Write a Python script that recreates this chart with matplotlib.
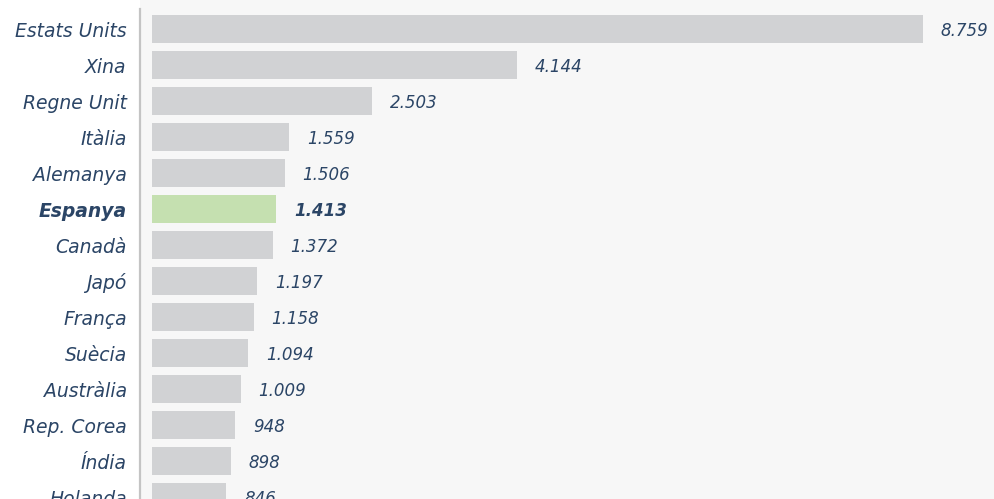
import matplotlib
matplotlib.use("Agg")
import matplotlib.pyplot as plt
from matplotlib.patches import Rectangle

countries = ["Estats Units", "Xina", "Regne Unit", "Itàlia", "Alemanya", "Espanya",
             "Canadà", "Japó", "França", "Suècia", "Austràlia", "Rep. Corea", "Índia", "Holanda"]
values = [8759, 4144, 2503, 1559, 1506, 1413, 1372, 1197, 1158, 1094, 1009, 948, 898, 846]
value_labels = ["8.759", "4.144", "2.503", "1.559", "1.506", "1.413", "1.372", "1.197",
                "1.158", "1.094", "1.009", "948", "898", "846"]
highlight = "Espanya"

W, H = 994, 499
fig = plt.figure(figsize=(W / 100, H / 100), dpi=100, facecolor="white")
fig.patches.append(Rectangle((140 / W, 0), 1 - 140 / W, 1, transform=fig.transFigure,
                             facecolor="#f7f7f7", edgecolor="none", zorder=-10))

ax = fig.add_axes([140 / W, 0, 1 - 140 / W, 1])
ax.set_facecolor("none")
ax.set_zorder(5)

text_color = "#2b4566"
gray = "#d1d2d4"
green = "#c5e0b0"

ypos = list(range(len(countries)))
colors = [green if c == highlight else gray for c in countries]
ax.barh(ypos, values, height=0.78, color=colors, zorder=2)

xmax = 9565
ax.set_xlim(-136, xmax)
ax.set_ylim(13.056, -0.806)

font = "DejaVu Sans"
for y, v, lab, c in zip(ypos, values, value_labels, countries):
    bold = c == highlight
    ax.text(v + 200, y + 0.06, lab, va="center", ha="left", fontsize=12, style="italic",
            fontweight="bold" if bold else "normal", color=text_color, family=font)
    ax.text(-136 - 150, y + 0.06, c, va="center", ha="right", fontsize=13.5, style="italic",
            fontweight="bold" if bold else "normal", color=text_color, family=font,
            clip_on=False)

for s in ["top", "right", "bottom"]:
    ax.spines[s].set_visible(False)
ax.spines["left"].set_color("#c4c4c4")
ax.spines["left"].set_linewidth(1.6)
ax.spines["left"].set_bounds(13.056, -0.556)
ax.set_xticks([])
ax.set_yticks([])

fig.savefig("out.png", dpi=100, facecolor=fig.get_facecolor())
